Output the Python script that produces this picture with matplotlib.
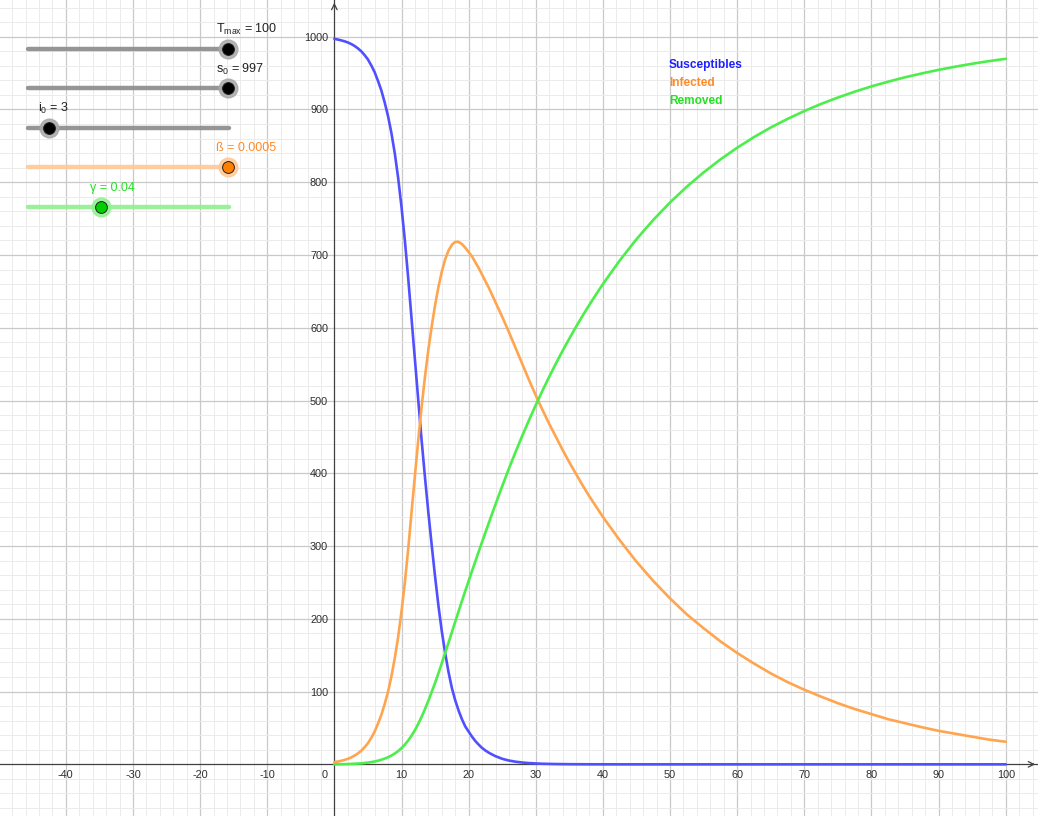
"""SIR epidemic curves (GeoGebra-style view with parameter sliders)."""

import matplotlib
matplotlib.use("Agg")
import matplotlib.pyplot as plt  # noqa: E402
from matplotlib.ticker import MultipleLocator  # noqa: E402

t = ([i / 2 for i in range(49)]            # 0 .. 24 every 0.5
     + list(range(25, 41))                 # 25 .. 40 every 1
     + [42.5 + 2.5 * k for k in range(24)])  # 42.5 .. 100 every 2.5

susceptibles = [997, 996.1, 995, 993.7, 992.1, 990, 987.3, 984, 980, 974.7,
                968.7, 960.5, 951.2, 939.2, 926, 909.4, 890.6, 867.4, 839.7, 806,
                766, 720, 668, 612, 556, 500, 445, 394, 346, 301,
                258, 218, 183, 153, 127, 105, 88, 74, 62, 52,
                45, 38, 32, 27, 22.5, 19, 16, 13.5, 11.2,
                7.6, 5.2, 3.6, 2.5, 1.7, 1.2, 0.8, 0.6, 0.4, 0.3, 0.2, 0.15, 0.1,
                0.07, 0.05, 0.03,
                0, 0, 0, 0, 0, 0, 0, 0, 0, 0, 0, 0,
                0, 0, 0, 0, 0, 0, 0, 0, 0, 0, 0, 0]

infected = [3, 3.8, 4.8, 6, 7.5, 9.5, 11.9, 15, 18.6, 23.5,
            29, 36.5, 45, 56, 68, 83, 100, 121, 146, 175,
            210, 250, 296, 347, 397, 446, 492, 533, 570, 602,
            631, 656, 677, 694, 706, 714, 718, 718, 715, 710,
            704, 698, 690, 682, 673, 664, 655, 645, 635,
            615, 594, 572, 550, 528, 507, 487, 468, 450, 432, 415, 399, 383,
            368, 354, 340,
            308, 278.5, 252, 228, 206, 187, 169, 153, 138.5, 125, 113, 102.5,
            93, 84, 76, 69, 62, 56.5, 51, 46, 42, 38, 34, 31]

removed = [0, 0.07, 0.15, 0.26, 0.4, 0.57, 0.8, 1.1, 1.4, 1.85,
           2.4, 3.1, 3.9, 5, 6.3, 7.9, 9.8, 12.1, 14.9, 18.2,
           22.3, 27.1, 32.8, 39.5, 47, 55.8, 65.4, 76, 87.4, 99.5,
           112, 125.2, 139, 153, 167, 181.5, 196, 210.3, 224.4, 238.3,
           252, 265.6, 279, 292.4, 305.6, 318.7, 331.7, 344.6, 357.3,
           382.3, 406.5, 429.6, 451.8, 473.2, 493.8, 513.6, 532.6, 550.9,
           568.4, 585.2, 601.4, 616.9, 631.8, 646.1, 660,
           692.4, 721.7, 748.2, 772.2, 793.9, 813.5, 831.3, 847.4, 862, 875.2,
           887, 897.8, 907.6, 916.4, 924.4, 931.7, 938.2, 944.2, 949.5, 954.4,
           958.8, 962.8, 966.4, 969.6]

series_names = ["Susceptibles", "Infected", "Removed"]

# slider panel (label, knob position as fraction of slider length)
slider_labels = [r"T$_{\mathregular{max}}$ = 100", r"s$_{\mathregular{0}}$ = 997",
                 r"i$_{\mathregular{0}}$ = 3", "ß = 0.0005", "γ = 0.04"]
slider_knob_frac = [1.0, 1.0, 0.104, 1.0, 0.368]

W, H = 1038, 816
LINE_COLORS = ["#5050ff", "#ffa54f", "#4cee4c"]
TEXT_COLORS = ["#1f1fff", "#ff8a26", "#22e022"]


def fig_xy(px, py):
    return px / W, 1 - py / H


def main():
    plt.rcParams["font.family"] = ["Liberation Sans", "DejaVu Sans"]
    plt.rcParams["axes.unicode_minus"] = False

    fig = plt.figure(figsize=(W / 100, H / 100), dpi=100)
    ax = fig.add_axes([0, 0, 1, 1])
    ax.set_xlim(-49.8, 104.8)
    ax.set_ylim(-71, 1050.4)

    # grid like the GeoGebra graphics view
    ax.set_xticks([v for v in range(-40, 101, 10) if v != 0])
    ax.set_yticks(list(range(100, 1001, 100)))
    ax.xaxis.set_minor_locator(MultipleLocator(2))
    ax.yaxis.set_minor_locator(MultipleLocator(20))
    ax.grid(which="major", color="#c9c9c9", lw=0.9)
    ax.grid(which="minor", color="#ebebeb", lw=0.7)
    ax.set_axisbelow(True)

    for side in ("top", "right"):
        ax.spines[side].set_visible(False)
    ax.spines["left"].set_position(("data", 0))
    ax.spines["bottom"].set_position(("data", 0))
    for side in ("left", "bottom"):
        ax.spines[side].set_color("#404040")
        ax.spines[side].set_linewidth(0.9)
    ax.tick_params(which="both", length=0, labelsize=7.8, labelcolor="#2e2e2e")
    ax.tick_params(axis="x", pad=4)
    ax.tick_params(axis="y", pad=4.5)
    ax.annotate("0", xy=(0, 0), xytext=(-4.5, -4), textcoords="offset points",
                ha="right", va="top", fontsize=7.8, color="#2e2e2e")

    # axis arrows
    ax.annotate("", xy=(1.0, 0), xycoords=("axes fraction", "data"),
                xytext=(0.99, 0), textcoords=("axes fraction", "data"),
                arrowprops=dict(arrowstyle="->", color="#404040", lw=0.9))
    ax.annotate("", xy=(0, 1.0), xycoords=("data", "axes fraction"),
                xytext=(0, 0.99), textcoords=("data", "axes fraction"),
                arrowprops=dict(arrowstyle="->", color="#404040", lw=0.9))

    for vals, c in zip([susceptibles, infected, removed], LINE_COLORS):
        ax.plot(t, vals, color=c, lw=1.9, solid_capstyle="round",
                solid_joinstyle="round", zorder=3)

    # coloured labels acting as legend
    for i, (name, c) in enumerate(zip(series_names, TEXT_COLORS)):
        ax.text(49.85, 961 - i * 25, name, color=c, fontsize=8.6,
                fontweight="bold", va="center", ha="left")

    # slider widgets
    x0, x1 = 28, 229
    rows = [48.5, 88.3, 127.7, 167.3, 207.3]
    track = ["#8a8a8a", "#8a8a8a", "#8a8a8a", "#ffc896", "#90f090"]
    knob = ["#000000", "#000000", "#000000", "#ff7f00", "#00d000"]
    halo = ["#a8a8a8", "#a8a8a8", "#a8a8a8", "#ffc896", "#90f090"]
    label_c = ["#222222", "#222222", "#222222", "#ff8a26", "#22e022"]
    for row, frac, lab, tc, kc, hc, lc in zip(rows, slider_knob_frac, slider_labels,
                                              track, knob, halo, label_c):
        a, b = fig_xy(x0, row), fig_xy(x1, row)
        ax.plot([a[0], b[0]], [a[1], b[1]], color=tc, lw=3.2, alpha=0.9,
                solid_capstyle="round", transform=fig.transFigure, clip_on=False,
                zorder=5)
        kx = x0 + frac * (x1 - x0 - 1.5)
        k = fig_xy(kx, row)
        ax.plot([k[0]], [k[1]], "o", ms=13.5, color=hc, alpha=0.85,
                transform=fig.transFigure, clip_on=False, zorder=6)
        ax.plot([k[0]], [k[1]], "o", ms=8.5, color=kc, mec="#222222", mew=0.7,
                transform=fig.transFigure, clip_on=False, zorder=7)
        lx, ly = fig_xy(kx - 11, row - 19)
        ax.text(lx, ly, lab, transform=fig.transFigure, fontsize=9, color=lc,
                ha="left", va="center", zorder=8)

    fig.savefig("out.png", dpi=100)


if __name__ == "__main__":
    main()
